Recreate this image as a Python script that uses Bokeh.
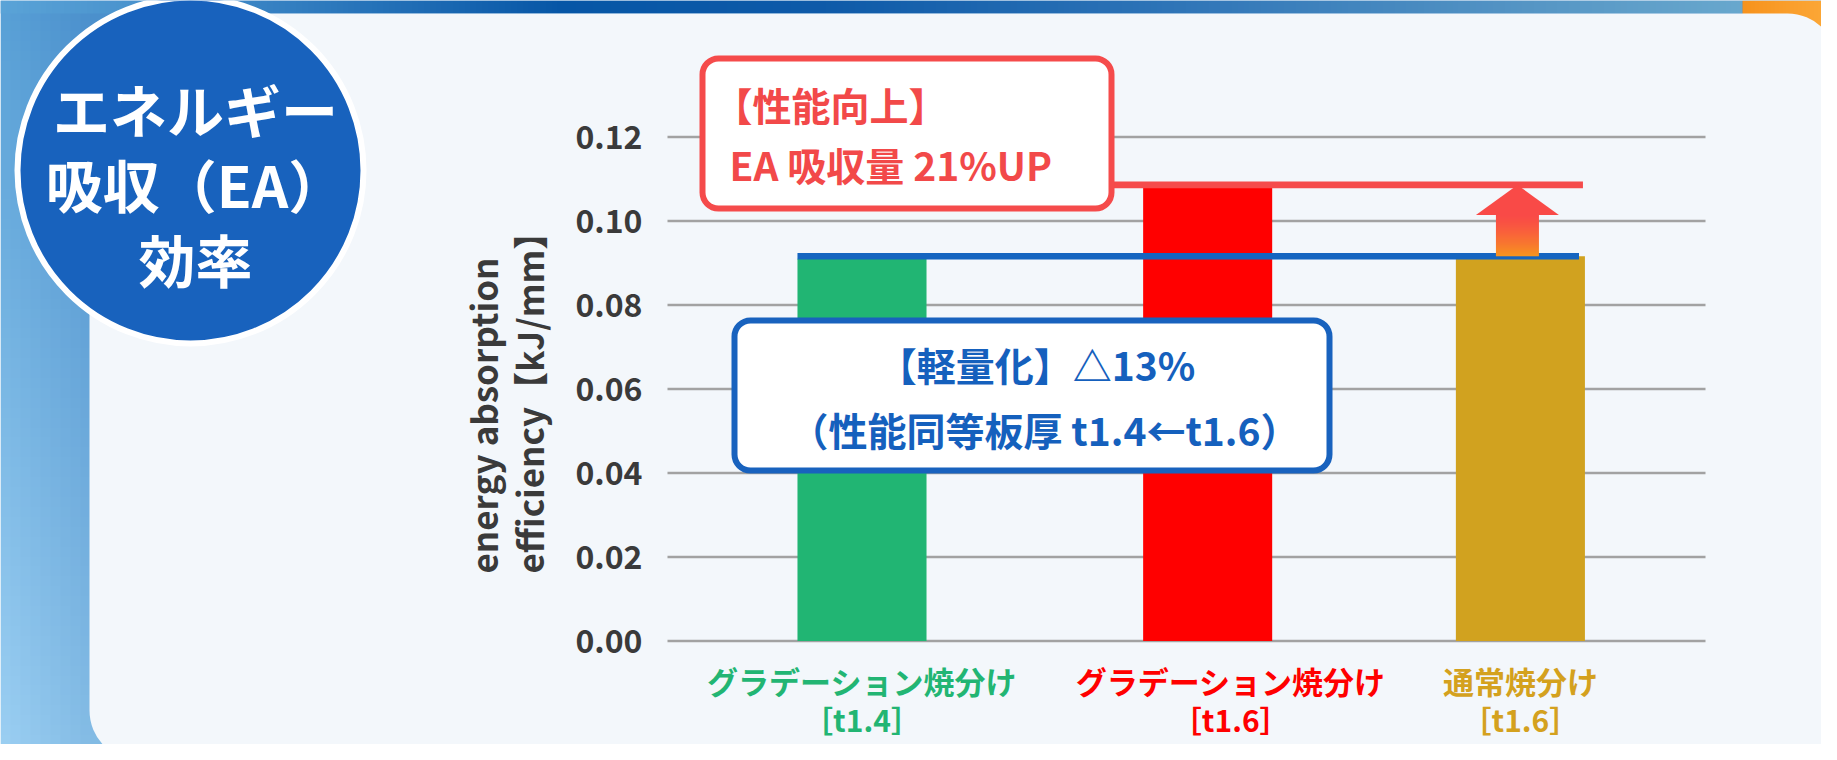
import numpy as np
from bokeh.plotting import figure
from bokeh.models import Range1d, ColumnDataSource
from bokeh.core.properties import value
from bokeh.embed import file_html
from bokeh.resources import INLINE

# ---------------- data ----------------
categories = ["グラデーション焼分け", "グラデーション焼分け", "通常焼分け"]
thickness = ["［t1.4］", "［t1.6］", "［t1.6］"]
efficiency = [0.0910, 0.1086, 0.0916]
bar_colors = ["#21B573", "#FF0000", "#D1A21F"]
label_colors = ["#22B573", "#FF0000", "#D4A11E"]
y_ticks = [0.00, 0.02, 0.04, 0.06, 0.08, 0.10, 0.12]
tick_labels = ["0.00", "0.02", "0.04", "0.06", "0.08", "0.10", "0.12"]
y_title = ["energy absorption", "efficiency【kJ/mm】"]
badge_lines = ["エネルギー", "吸収（EA）", "効率"]
up_lines = ["【性能向上】", "EA 吸収量 21%UP"]
light_lines = ["【軽量化】△13%", "（性能同等板厚 t1.4←t1.6）"]

# ---------------- layout / style ----------------
W, H = 1821, 744          # canvas size
OFF = 0                   # canvas drawn at picture origin
X0, UNIT = 861.5, 329.2   # picture x of first bar centre, px per category
Y0, VS = 640.5, 4200.0    # picture y of zero, px per unit of value
BAR_W = 0.392
bar_nudge = [0.0, 0.05, 0.0]
label_nudge = [0.0, 0.12, 0.0]
FONT = value("Noto Sans CJK JP")


def U(py):  # picture y (down) -> "pu" coordinate (up)
    return 760 - py


def hex2rgb(h):
    return np.array([int(h[i:i + 2], 16) for i in (1, 3, 5)], dtype=float)


def rgba_image(rgb):
    ny, nx, _ = rgb.shape
    img = np.empty((ny, nx), dtype=np.uint32)
    v = img.view(dtype=np.uint8).reshape((ny, nx, 4))
    v[..., :3] = np.clip(np.round(rgb), 0, 255).astype(np.uint8)
    v[..., 3] = 255
    return img


p = figure(width=W, height=H,
           x_range=Range1d((OFF - X0) / UNIT, (OFF + W - X0) / UNIT),
           y_range=Range1d((Y0 - (OFF + H)) / VS, (Y0 - OFF) / VS),
           output_backend="svg", toolbar_location=None, min_border=0,
           x_axis_location=None, y_axis_location=None,
           outline_line_color=None,
           background_fill_color="#F3F7FB", border_fill_color="#F3F7FB")
p.xgrid.visible = False
p.ygrid.visible = False
p.extra_x_ranges = {"px": Range1d(OFF, OFF + W)}
p.extra_y_ranges = {"pu": Range1d(U(OFF + H), U(OFF))}
PX = dict(x_range_name="px", y_range_name="pu")

# ---------------- background gradients ----------------
nx, ny = 183, 75
jj = (np.arange(nx) + 0.5) / nx
ii = (np.arange(ny) + 0.5) / ny
pxs = OFF + jj * W
pys = (OFF + H) - ii * H          # picture y, row 0 at bottom
ty = (pys / 760.0)[:, None, None]
tx = np.clip(pxs / 90.0, 0, 1)[None, :, None]
cl_t, cl_b = hex2rgb("#58A0D6"), hex2rgb("#9DD0F3")
cd_t, cd_b = hex2rgb("#4A8FCC"), hex2rgb("#84BCE5")
light = cl_t + (cl_b - cl_t) * ty
dark = cd_t + (cd_b - cd_t) * ty
bg = light + (dark - light) * tx
p.image_rgba(image=[rgba_image(bg)], x=OFF, y=U(OFF + H), dw=W, dh=H, **PX)

# top band
stops_x = [0, 250, 560, 820, 1170, 1520, 1742]
stops_c = [hex2rgb(c) for c in ["#5AA3D7", "#3A84C4", "#0656A6", "#0E5AA8",
                                "#2E74B7", "#5494C4", "#68A7CD"]]
bx = np.linspace(OFF, 1742, 300)
band = np.stack([np.interp(bx, stops_x, [c[k] for c in stops_c]) for k in range(3)], axis=-1)[None, :, :]
p.image_rgba(image=[rgba_image(band)], x=OFF, y=U(13), dw=1742 - OFF, dh=13 - OFF, **PX)

# orange corner
ox = np.linspace(0, 1, 20)[:, None]
orange = (hex2rgb("#F7931E") + (hex2rgb("#FBA635") - hex2rgb("#F7931E")) * ox)[None, :, :]
p.image_rgba(image=[rgba_image(orange)], x=1742, y=U(60), dw=OFF + W - 1742, dh=60 - OFF, **PX)

# card
p.quad(left=89, right=1837, top=U(13), bottom=U(760), border_radius=50,
       fill_color="#F3F7FB", line_color=None, **PX)

# badge
p.circle(x=190, y=U(170), radius=173, fill_color="#1862BD",
         line_color="white", line_width=6, **PX)
p.text(x=[195, 195, 195], y=[U(107), U(182), U(257)], text=badge_lines,
       text_font=FONT, text_font_size="57px", text_font_style="bold",
       text_color="white", text_align="center", text_baseline="middle", **PX)

# ---------------- axis (gridlines, tick labels, title) ----------------
p.segment(x0=667, x1=1705, y0=y_ticks, y1=y_ticks, x_range_name="px",
          line_color="#A2A2A2", line_width=2.5)
p.text(x=642, y=y_ticks, text=tick_labels, x_range_name="px",
       text_font=FONT, text_font_size="32px", text_font_style="bold",
       text_color="#3A3A3A", text_align="right", text_baseline="middle")
p.text(x=[482, 528], y=[U(573), U(573)], text=y_title, angle=np.pi / 2,
       text_font=FONT, text_font_size="35px", text_font_style="bold",
       text_color="#3A3A3A", text_align="left", text_baseline="middle", **PX)

# ---------------- bars ----------------
xs = [i + n for i, n in enumerate(bar_nudge)]
src = ColumnDataSource(dict(x=xs, top=efficiency, color=bar_colors))
p.vbar(x="x", top="top", bottom=0, width=BAR_W, fill_color="color",
       line_color=None, source=src)

# reference lines
p.segment(x0=[xs[1] - 0.5], x1=[xs[2] + BAR_W / 2 - 0.006],
          y0=[efficiency[1]], y1=[efficiency[1]],
          line_color="#F54B4B", line_width=6.7)
p.segment(x0=[xs[0] - BAR_W / 2], x1=[xs[2] + BAR_W / 2 - 0.018],
          y0=[efficiency[2]], y1=[efficiency[2]],
          line_color="#1565C0", line_width=6.6)

# arrow
SHAFT_HW, HEAD_HW, HEAD_H = 0.0653, 0.126, 0.00715
ax = xs[2] - 0.009
base = efficiency[1] - HEAD_H
n = 40
s = 1 - (np.arange(n) + 0.5) / n
red_c, org_c = hex2rgb("#F94A47"), hex2rgb("#F8961E")
shaft = (red_c + (org_c - red_c) * (s ** 1.4)[:, None])[:, None, :]
p.image_rgba(image=[rgba_image(shaft)], x=ax - SHAFT_HW, y=efficiency[2],
             dw=2 * SHAFT_HW, dh=base - efficiency[2])
p.patch(x=[ax - HEAD_HW, ax + HEAD_HW, ax], y=[base, base, efficiency[1]],
        fill_color="#F94A47", line_color=None)

# ---------------- callout boxes ----------------
p.quad(left=702, right=1111, top=U(58), bottom=U(208), border_radius=16,
       fill_color="white", line_color="#F54B4B", line_width=6, **PX)
p.text(x=[713, 729], y=[U(103), U(163)], text=up_lines,
       text_font=FONT, text_font_size="39px", text_font_style="bold",
       text_color="#F24949", text_align="left", text_baseline="middle", **PX)

p.quad(left=734, right=1329, top=U(320), bottom=U(470), border_radius=16,
       fill_color="white", line_color="#1862BE", line_width=6, **PX)
p.text(x=[1036, 1044], y=[U(363), U(428)], text=light_lines,
       text_font=FONT, text_font_size="39px", text_font_style="bold",
       text_color="#1560BD", text_align="center", text_baseline="middle", **PX)

# ---------------- category labels ----------------
lx = [i + n for i, n in enumerate(label_nudge)]
p.text(x=lx, y=U(680), text=categories, y_range_name="pu",
       text_font=FONT, text_font_size="31px", text_font_style="bold",
       text_color=label_colors, text_align="center", text_baseline="middle")
p.text(x=lx, y=U(718), text=thickness, y_range_name="pu",
       text_font=FONT, text_font_size="30px", text_font_style="bold",
       text_color=label_colors, text_align="center", text_baseline="middle")

open("out.html", "w").write(file_html(p, INLINE))
